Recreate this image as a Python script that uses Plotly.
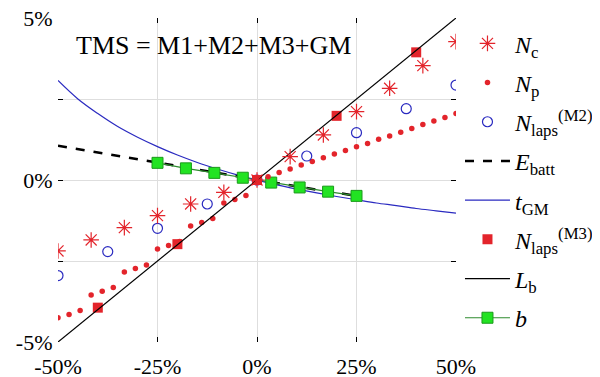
import plotly.graph_objects as go

# ---------------- data (percent) ----------------
nc_x = [-50, -41.67, -33.33, -25, -16.67, -8.33, 0, 8.33, 16.67, 25, 33.33, 41.67, 50]
nc_y = [-2.19, -1.85, -1.47, -1.10, -0.74, -0.38, 0.0, 0.72, 1.39, 2.11, 2.83, 3.53, 4.27]

np_x = [-50, -47.22, -44.44, -41.67, -38.89, -36.11, -33.33, -30.56, -27.78, -25, -22.22, -19.44,
        -16.67, -13.89, -11.11, -8.33, -5.56, -2.78, 0,
        2.78, 5.56, 8.33, 11.11, 13.89, 16.67, 19.44, 22.22, 25, 27.78, 30.56, 33.33, 36.11,
        38.89, 41.67, 44.44, 47.22, 50]
np_y = [-4.25, -4.15, -4.03, -3.55, -3.43, -3.32, -2.84, -2.73, -2.62, -2.13, -2.02, -1.90,
        -1.42, -1.31, -1.19, -0.71, -0.60, -0.48, 0.0,
        0.10, 0.23, 0.34, 0.46, 0.57, 0.69, 0.80, 0.91, 1.03, 1.13, 1.26, 1.36, 1.47,
        1.59, 1.71, 1.82, 1.93, 2.05]

m2_x = [-50, -37.5, -25, -12.5, 0, 12.5, 25, 37.5, 50]
m2_y = [-2.95, -2.21, -1.49, -0.74, 0.0, 0.74, 1.46, 2.20, 2.93]

eb_x = [-50, -37.5, -25, -12.5, 0, 12.5, 25]
eb_y = [1.06, 0.80, 0.54, 0.27, 0.0, -0.25, -0.49]

tg_x = [-50, -45, -40, -35, -30, -25, -20, -15, -10, -5, 0, 5, 10, 15, 20, 25, 30, 35, 40, 45, 50]
tg_y = [3.07, 2.50, 2.05, 1.65, 1.32, 1.03, 0.77, 0.54, 0.34, 0.16, 0.0, -0.15, -0.28, -0.40,
        -0.51, -0.61, -0.71, -0.79, -0.88, -0.95, -1.02]

m3_x = [-40, -20, 0, 20, 40]
m3_y = [-3.94, -1.98, 0.0, 1.98, 3.94]

lb_x = [-50, 50]
lb_y = [-5, 5]

b_x = [-25, -17.86, -10.71, -3.57, 3.57, 10.71, 17.86, 25]
b_y = [0.53, 0.36, 0.22, 0.07, -0.08, -0.23, -0.36, -0.49]

x_ticks = [-50, -25, 0, 25, 50]
x_labels = ["-50%", "-25%", "0%", "25%", "50%"]
y_ticks = [-5, -2.5, 0, 2.5, 5]
y_labels = ["-5%", "", "0%", "", "5%"]

RED = "#e3242b"
BLUE = "#2a2ac0"
SERIF = "Liberation Serif"

fig = go.Figure()

fig.add_trace(go.Scatter(x=nc_x, y=nc_y, mode="markers", name="<i>N</i><sub>c</sub>",
                         legendgroup="a", zorder=8,
                         marker=dict(symbol="asterisk-open", size=13, line=dict(color=RED, width=1.2), color=RED)))
fig.add_trace(go.Scatter(x=np_x, y=np_y, mode="markers", name="<i>N</i><sub>p</sub>",
                         legendgroup="b", zorder=4,
                         marker=dict(symbol="circle", size=5.5, color=RED)))
fig.add_trace(go.Scatter(x=m2_x, y=m2_y, mode="markers", name="<i>N</i><sub>laps</sub><sup>(M2)</sup>",
                         legendgroup="c", zorder=5,
                         marker=dict(symbol="circle-open", size=10, line=dict(color=BLUE, width=1.2), color=BLUE)))
fig.add_trace(go.Scatter(x=eb_x, y=eb_y, mode="lines", name="<i>E</i><sub>batt</sub>",
                         legendgroup="d", zorder=2,
                         line=dict(color="black", width=2.5, dash="dash")))
fig.add_trace(go.Scatter(x=tg_x, y=tg_y, mode="lines", name="<i>t</i><sub>GM</sub>",
                         legendgroup="e", zorder=1, line_shape="spline",
                         line=dict(color=BLUE, width=1.2)))
fig.add_trace(go.Scatter(x=m3_x, y=m3_y, mode="markers", name="<i>N</i><sub>laps</sub><sup>(M3)</sup>",
                         legendgroup="f", zorder=6,
                         marker=dict(symbol="square", size=10, color=RED)))
fig.add_trace(go.Scatter(x=lb_x, y=lb_y, mode="lines", name="<i>L</i><sub>b</sub>",
                         legendgroup="g", zorder=7,
                         line=dict(color="black", width=1.2)))
fig.add_trace(go.Scatter(x=b_x, y=b_y, mode="lines+markers", name="<i>b</i>",
                         legendgroup="h", zorder=3,
                         line=dict(color="#2e8b2e", width=1.2),
                         marker=dict(symbol="square", size=11, color="#22e322",
                                     line=dict(color="#1a9a1a", width=1))))

fig.add_annotation(x=0.04, y=0.915, xref="paper", yref="paper", xanchor="left", yanchor="middle",
                   text="TMS = M1+M2+M3+GM", showarrow=False,
                   font=dict(family=SERIF, size=26, color="black"))

axis_common = dict(showline=True, linecolor="black", linewidth=1.2, mirror="ticks",
                   ticks="inside", ticklen=5, tickcolor="black",
                   showgrid=True, gridcolor="#dedede", gridwidth=1, zeroline=False,
                   ticklabeloverflow="allow",
                   tickfont=dict(family=SERIF, size=22, color="black"))

fig.update_xaxes(range=[-50, 50], tickvals=x_ticks, ticktext=x_labels,
                 ticklabelstandoff=4, **axis_common)
fig.update_yaxes(range=[-5, 5], tickvals=y_ticks, ticktext=y_labels, **axis_common)

fig.update_layout(
    width=592, height=369,
    margin=dict(l=50, r=144, t=10, b=35, autoexpand=False),
    paper_bgcolor="white", plot_bgcolor="white",
    showlegend=True,
    legend=dict(x=1.01, y=0.99, xanchor="left", yanchor="top",
                traceorder="grouped", tracegroupgap=5, maxheight=360,
                font=dict(family=SERIF, size=24, color="black"),
                bgcolor="rgba(0,0,0,0)", itemwidth=45),
)

fig.write_html("out.html")
